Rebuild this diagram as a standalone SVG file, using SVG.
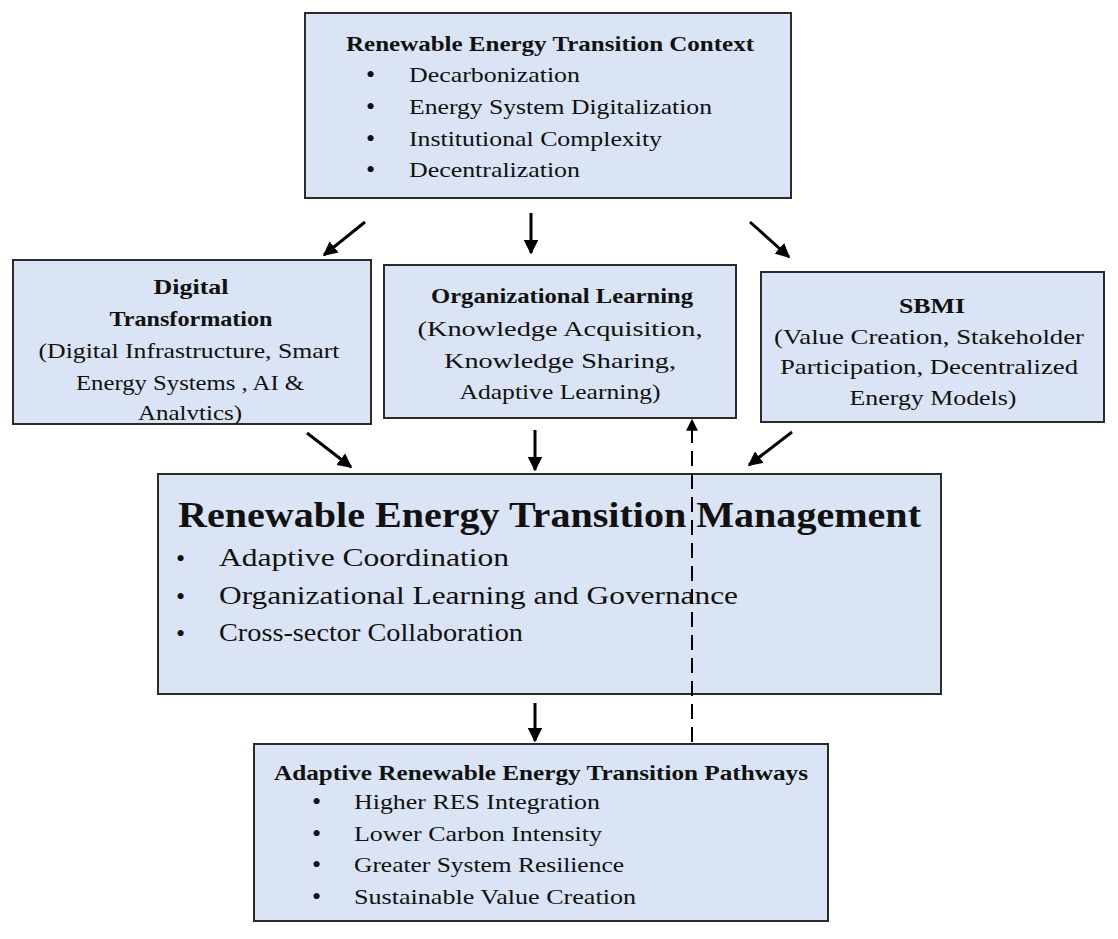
<svg xmlns="http://www.w3.org/2000/svg" width="1118" height="939" viewBox="0 0 1118 939">
<style>
.box{fill:#dae4f4;stroke:#2b2b2b;stroke-width:2}
text{font-family:"Liberation Serif","Times New Roman",serif;fill:#111}
.t{font-size:21px;font-weight:bold;text-anchor:middle}
.b{font-size:21px;text-anchor:middle}
.i{font-size:21px}
.bt{font-size:36px;font-weight:bold}
.bi{font-size:26px}
.d{font-size:26px}
.arr{stroke:#000;stroke-width:3;fill:none;marker-end:url(#ah)}
.dash{stroke:#000;stroke-width:2;fill:none;stroke-dasharray:15 8;marker-end:url(#ahs)}
</style>
<defs>
<marker id="ah" viewBox="0 0 10 10" refX="9" refY="5" markerWidth="4.8" markerHeight="4.8" orient="auto" markerUnits="strokeWidth">
<path d="M0,0 L10,5 L0,10 z" fill="#000"/>
</marker>
<marker id="ahs" viewBox="0 0 10 10" refX="9" refY="5" markerWidth="6" markerHeight="6" orient="auto" markerUnits="strokeWidth">
<path d="M0,0 L10,5 L0,10 z" fill="#000"/>
</marker>
</defs>
<rect width="1118" height="939" fill="#fff"/>

<g id="context">
<rect class="box" x="305" y="13" width="486" height="185"/>
<text class="t" x="550" y="51" textLength="408" lengthAdjust="spacingAndGlyphs">Renewable Energy Transition Context</text>
<g class="i">
<text class="d" x="366" y="83">•</text><text x="409" y="82" textLength="171" lengthAdjust="spacingAndGlyphs">Decarbonization</text>
<text class="d" x="366" y="115">•</text><text x="409" y="114" textLength="303" lengthAdjust="spacingAndGlyphs">Energy System Digitalization</text>
<text class="d" x="366" y="147">•</text><text x="409" y="146" textLength="253" lengthAdjust="spacingAndGlyphs">Institutional Complexity</text>
<text class="d" x="366" y="178">•</text><text x="409" y="177" textLength="171" lengthAdjust="spacingAndGlyphs">Decentralization</text>
</g>
</g>

<g id="digital">
<rect class="box" x="13" y="260" width="358" height="164"/>
<text class="t" x="191" y="294" textLength="75" lengthAdjust="spacingAndGlyphs">Digital</text>
<text class="t" x="191" y="326" textLength="163" lengthAdjust="spacingAndGlyphs">Transformation</text>
<text class="b" x="189" y="358" textLength="301" lengthAdjust="spacingAndGlyphs">(Digital Infrastructure, Smart</text>
<text class="b" x="190" y="390" textLength="228" lengthAdjust="spacingAndGlyphs">Energy Systems , AI &amp;</text>
<text class="b" x="190" y="420" textLength="104" lengthAdjust="spacingAndGlyphs">Analvtics)</text>
</g>

<g id="learning">
<rect class="box" x="384" y="265" width="352" height="153"/>
<text class="t" x="562" y="303" textLength="262" lengthAdjust="spacingAndGlyphs">Organizational Learning</text>
<text class="b" x="560" y="336" textLength="285" lengthAdjust="spacingAndGlyphs">(Knowledge Acquisition,</text>
<text class="b" x="560" y="368" textLength="232" lengthAdjust="spacingAndGlyphs">Knowledge Sharing,</text>
<text class="b" x="560" y="399" textLength="201" lengthAdjust="spacingAndGlyphs">Adaptive Learning)</text>
</g>

<g id="sbmi">
<rect class="box" x="761" y="272" width="343" height="150"/>
<text class="t" x="932" y="313" textLength="66" lengthAdjust="spacingAndGlyphs">SBMI</text>
<text class="b" x="929" y="344" textLength="310" lengthAdjust="spacingAndGlyphs">(Value Creation, Stakeholder</text>
<text class="b" x="929" y="374" textLength="298" lengthAdjust="spacingAndGlyphs">Participation, Decentralized</text>
<text class="b" x="933" y="405" textLength="167" lengthAdjust="spacingAndGlyphs">Energy Models)</text>
</g>

<g id="management">
<rect class="box" x="158" y="474" width="783" height="220"/>
<text class="bt" x="178" y="527" textLength="743" lengthAdjust="spacingAndGlyphs">Renewable Energy Transition Management</text>
<g class="bi">
<text x="176" y="567">•</text><text x="219" y="566" textLength="290" lengthAdjust="spacingAndGlyphs">Adaptive Coordination</text>
<text x="176" y="605">•</text><text x="219" y="604" textLength="519" lengthAdjust="spacingAndGlyphs">Organizational Learning and Governance</text>
<text x="176" y="642">•</text><text x="219" y="641" textLength="304" lengthAdjust="spacingAndGlyphs">Cross-sector Collaboration</text>
</g>
</g>

<g id="pathways">
<rect class="box" x="254" y="744" width="574" height="177"/>
<text class="t" x="541" y="780" textLength="534" lengthAdjust="spacingAndGlyphs">Adaptive Renewable Energy Transition Pathways</text>
<g class="i">
<text class="d" x="312" y="810">•</text><text x="354" y="809" textLength="246" lengthAdjust="spacingAndGlyphs">Higher RES Integration</text>
<text class="d" x="312" y="842">•</text><text x="354" y="841" textLength="248" lengthAdjust="spacingAndGlyphs">Lower Carbon Intensity</text>
<text class="d" x="312" y="873">•</text><text x="354" y="872" textLength="270" lengthAdjust="spacingAndGlyphs">Greater System Resilience</text>
<text class="d" x="312" y="905">•</text><text x="354" y="904" textLength="282" lengthAdjust="spacingAndGlyphs">Sustainable Value Creation</text>
</g>
</g>

<g id="connectors">
<line class="arr" x1="365" y1="222" x2="324" y2="255"/>
<line class="arr" x1="531" y1="213" x2="531" y2="253"/>
<line class="arr" x1="750" y1="222" x2="789" y2="257"/>
<line class="arr" x1="307" y1="433" x2="351" y2="467"/>
<line class="arr" x1="535" y1="430" x2="535" y2="470"/>
<line class="arr" x1="792" y1="432" x2="749" y2="465"/>
<line class="arr" x1="535" y1="703" x2="535" y2="741"/>
<line class="dash" x1="692" y1="742" x2="692" y2="420"/>
</g>
</svg>
